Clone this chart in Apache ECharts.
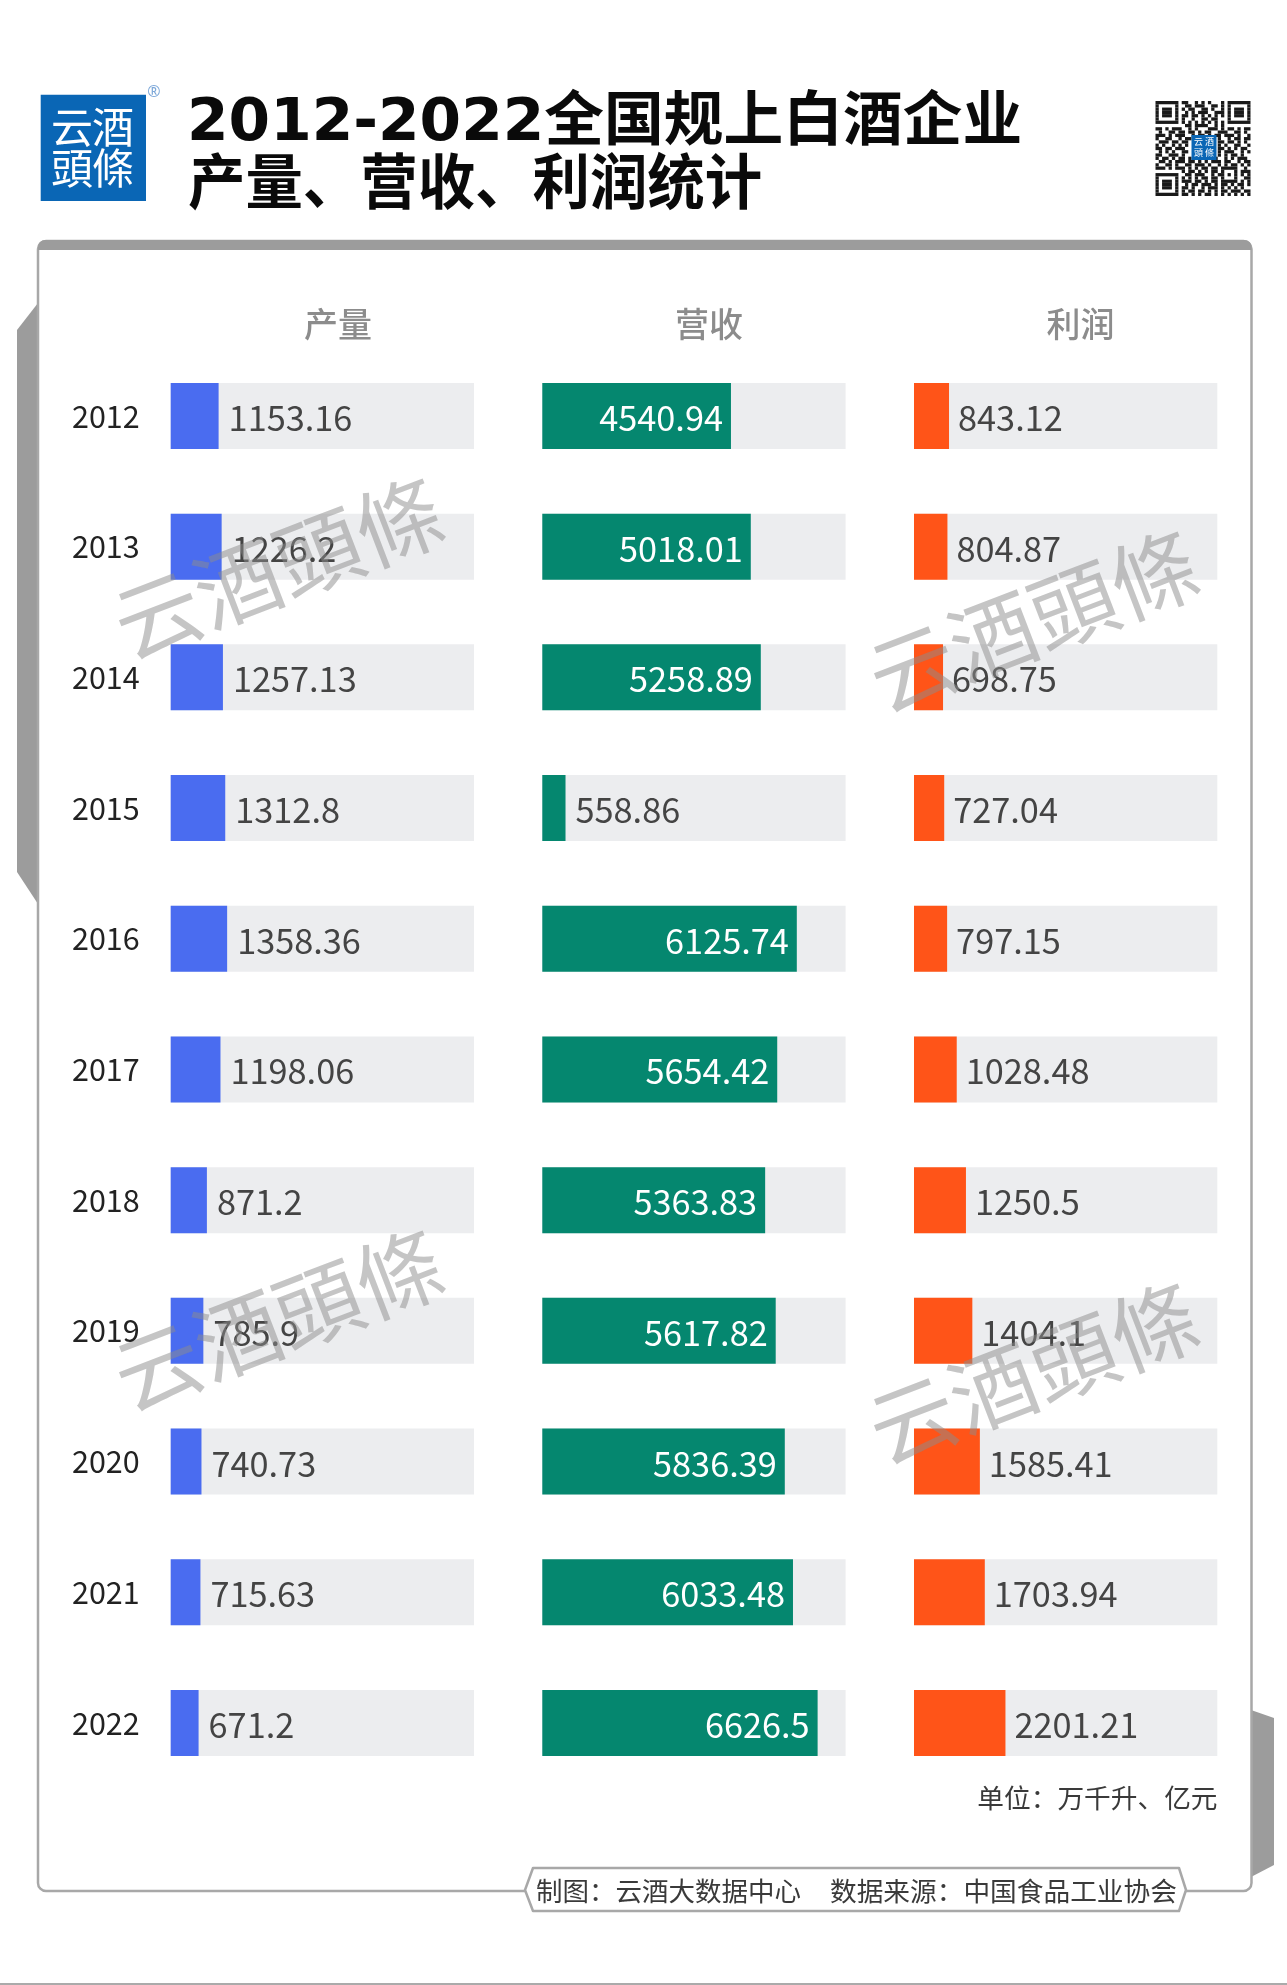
<!DOCTYPE html>
<html><head><meta charset="utf-8">
<style>html,body{margin:0;padding:0;background:#fff}#c{width:1287px;height:1985px}</style>
<script src="https://cdn.jsdelivr.net/npm/echarts@6/dist/echarts.min.js"></script>
</head><body><div id="c"></div>
<script>
const years = ['2012','2013','2014','2015','2016','2017','2018','2019','2020','2021','2022'];
const output = [1153.16,1226.2,1257.13,1312.8,1358.36,1198.06,871.2,785.9,740.73,715.63,671.2];
const revenue = [4540.94,5018.01,5258.89,558.86,6125.74,5654.42,5363.83,5617.82,5836.39,6033.48,6626.5];
const profit = [843.12,804.87,698.75,727.04,797.15,1028.48,1250.5,1404.1,1585.41,1703.94,2201.21];
const headers = ['产量','营收','利润'];
const axisMax = 7300;
const font = '"Noto Sans CJK SC","Noto Sans",sans-serif';
const cjkTC = '"Noto Sans CJK TC","Noto Sans CJK SC",sans-serif';

const qrRows = [
'#######.##..#.#.#...#.#######',
'#.....#..##.###..##.#.#.....#',
'#.###.#.#.##..##.#..#.#.###.#',
'#.###.#..#.#.###..###.#.###.#',
'#.###.#.##.##.#.#.#.#.#.###.#',
'#.....#.#..#..##.##...#.....#',
'#######.#.#.#.#.#.#.#.#######',
'.........##.####..#.#........',
'##.#.###..#.#...###.#.##.#.##',
'.#..##.##.##.#.##..###..##.#.',
'###.#.###..#.##.#.##.###.#..#',
'#..##..#.##........#..#.##.##',
'.###.##.##.........##.##.#.#.',
'#.#..#.#.#.........#.#..##..#',
'##.##.###..........##.#.#.##.',
'.#.#.#..##.........#.###..#.#',
'##..###.#..........#.#.##.#..',
'#.##.#.##.#.#.##.##..#.#.###.',
'.##.#.###.##.#.#.###.##..#.##',
'#..##.#..##.###.#..#.#.##.#.#',
'###.#.###.#.#.##.##.#####..#.',
'........#.##.#.#.##.#...#.###',
'#######..##.###..#.##.#.#.#.#',
'#.....#.#.#.#.##.##.#...#..##',
'#.###.#.###.##.#.##.#####.#.#',
'#.###.#..#.##.###.#.##.#.##.#',
'#.###.#.##.#..#.###.#.#.#.#..',
'#.....#.#.##.##.#.#.##.###.##',
'#######.##.#.#.##.#.#.#.#.#.#'
];

const columns = [
  {data: output, color:'#4a6cf0', left:170.7},
  {data: revenue, color:'#05876f', left:542.3, inside:true},
  {data: profit, color:'#ff5418', left:914}
];
const gridW = 303.3, gridTop = 350.6, gridH = 1437.7;

function labelFor(v, col){
  const base = {show:true, fontFamily:font, fontSize:34.3, offset:[0,2]};
  if (col.inside && v > 1000) return {...base, position:'insideRight', distance:8, color:'#ffffff'};
  return {...base, position:'right', distance:col.color==='#ff5418'?9:10, color:'#444444'};
}

const grid = columns.map(c=>({left:c.left, top:gridTop, width:gridW, height:gridH}));
const xAxis = columns.map((c,i)=>({gridIndex:i, type:'value', min:0, max:axisMax, show:false}));
const yAxis = columns.map((c,i)=>({
  gridIndex:i, type:'category', data:years, inverse:true, show:i===0, z:10,
  axisLine:{show:false}, axisTick:{show:false}, splitLine:{show:false},
  axisLabel:{show:i===0, color:'#222', fontFamily:font, fontSize:30.5, margin:31, padding:[5,0,0,0]}
}));
const series = columns.map((c,i)=>({
  type:'bar', xAxisIndex:i, yAxisIndex:i, barWidth:66, silent:true, animation:false,
  showBackground:true, backgroundStyle:{color:'#ecedef'},
  itemStyle:{color:c.color},
  data:c.data.map(v=>({value:v, label:labelFor(v,c)}))
}));

const g = [];
// side tabs
g.push({type:'polygon', z:1, shape:{points:[[38,303],[17,330],[17,872],[38,904]]}, style:{fill:'#9c9c9c'}});
g.push({type:'polygon', z:1, shape:{points:[[1251,1710],[1274,1718],[1274,1865],[1251,1877]]}, style:{fill:'#9c9c9c'}});
// panel
g.push({type:'rect', z:1, shape:{x:38,y:241,width:1213.5,height:1650,r:8}, style:{fill:'#fff',stroke:'#a8a8a8',lineWidth:2.5}});
g.push({type:'rect', z:1, shape:{x:38,y:240,width:1213.5,height:10,r:[7,7,0,0]}, style:{fill:'#9c9c9c'}});
g.push({type:'rect', z:1, shape:{x:0,y:1983,width:1287,height:2}, style:{fill:'#aaaaaa'}});
// footer pill
g.push({type:'polygon', z:5, shape:{points:[[533,1868],[1179,1868],[1186,1890],[1179,1911],[533,1911],[525,1890]]}, style:{fill:'#fff',stroke:'#a8a8a8',lineWidth:2.5,lineJoin:'round'}});
g.push({type:'text', z:6, x:536, y:1891, style:{text:'制图：云酒大数据中心', font:'26.5px '+font, fill:'#3a3a3a', verticalAlign:'middle'}});
g.push({type:'text', z:6, x:830, y:1891, style:{text:'数据来源：中国食品工业协会', font:'26.7px '+font, fill:'#3a3a3a', verticalAlign:'middle'}});
g.push({type:'text', z:6, x:1217.5, y:1798, style:{text:'单位：万千升、亿元', font:'26.7px '+font, fill:'#3a3a3a', align:'right', verticalAlign:'middle'}});
// headers
[338,709,1080.5].forEach((x,i)=>g.push({type:'text', z:6, x, y:324, style:{text:headers[i], font:'500 34px '+font, fill:'#8c8c8c', align:'center', verticalAlign:'middle'}}));
// logo
g.push({type:'rect', z:6, shape:{x:40.7,y:94.7,width:105.3,height:106.3}, style:{fill:'#0a66b5'}});
[['云',72,127],['酒',113,127],['頭',72,168],['條',113,168]].forEach(a=>g.push({type:'text', z:7, x:a[1], y:a[2], style:{text:a[0], font:'42px '+cjkTC, fill:'#fff', align:'center', verticalAlign:'middle'}}));
g.push({type:'text', z:7, x:154, y:92, style:{text:'®', font:'16px "Noto Sans",sans-serif', fill:'#7fa9d9', align:'center', verticalAlign:'middle'}});
// title
g.push({type:'text', z:7, x:187, y:125, scaleX:1.004, style:{text:'2012-2022全国规上白酒企业', font:'bold 59.5px "DejaVu Sans","Noto Sans CJK SC",sans-serif', fill:'#0a0a0a', verticalAlign:'middle'}});
g.push({type:'text', z:7, x:188, y:181, scaleX:0.957, style:{text:'产量、营收、利润统计', font:'bold 60px "Noto Sans CJK SC",sans-serif', fill:'#0a0a0a', verticalAlign:'middle'}});
// QR decoration
const qx=1155.5, qy=101, qm=95/29;
qrRows.forEach((row,r)=>{
  let c=0;
  while(c<row.length){
    if(row[c]==='#'){ let e=c; while(e<row.length&&row[e]==='#') e++;
      g.push({type:'rect', z:7, shape:{x:qx+c*qm,y:qy+r*qm,width:(e-c)*qm,height:qm}, style:{fill:'#1a1a1a'}}); c=e;
    } else c++;
  }
});
g.push({type:'rect', z:8, shape:{x:1191.5,y:135,width:25,height:25}, style:{fill:'#0a66b5'}});
[['云',1198.5,142],['酒',1209.5,142],['頭',1198.5,153],['條',1209.5,153]].forEach(a=>g.push({type:'text', z:9, x:a[1], y:a[2], style:{text:a[0], font:'9px '+cjkTC, fill:'#fff', align:'center', verticalAlign:'middle'}}));
// watermarks
[[278,568],[1033,621],[278,1320],[1033,1373]].forEach(p=>g.push({type:'text', z:100, x:p[0], y:p[1], rotation:21*Math.PI/180, silent:true,
  style:{text:'云酒頭條', font:'86px '+cjkTC, fill:'rgba(140,140,140,0.5)', align:'center', verticalAlign:'middle'}}));

const chart = echarts.init(document.getElementById('c'), null, {width:1287,height:1985});
chart.setOption({animation:false, backgroundColor:'#fff', grid, xAxis, yAxis, series, graphic:{elements:g}});
</script></body></html>
